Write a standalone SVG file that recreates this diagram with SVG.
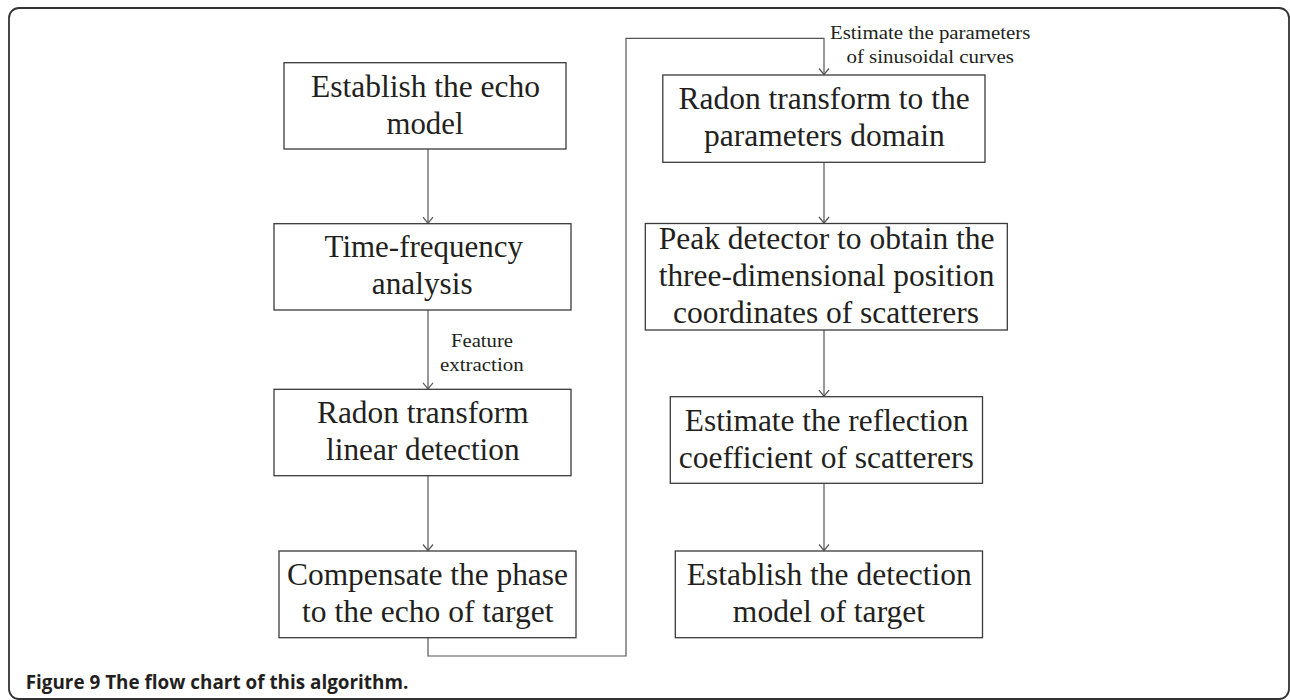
<svg xmlns="http://www.w3.org/2000/svg" width="1290" height="700" viewBox="0 0 1290 700">
<style>
.box{fill:#fff;stroke:#3a3a3a;stroke-width:1.3}
.t{font-family:"Liberation Serif","Times New Roman",serif;font-size:32px;fill:#231f20;text-anchor:middle}
.lbl{font-family:"Liberation Serif","Times New Roman",serif;font-size:19px;fill:#231f20;text-anchor:middle}
.conn{fill:none;stroke:#555;stroke-width:1.2}
.cap{font-family:"Open Sans","Liberation Sans",sans-serif;font-weight:bold;font-size:20px;fill:#231f20}
</style>
<defs>
<marker id="arr" markerUnits="userSpaceOnUse" markerWidth="14" markerHeight="14" viewBox="-8 -7 10 14" refX="0" refY="0" orient="auto">
<path d="M-6,-5 L0,0 L-6,5" fill="none" stroke="#555" stroke-width="1.2"/>
</marker>
</defs>
<rect x="9" y="8" width="1280" height="691" rx="10" ry="10" fill="#fff" stroke="#333" stroke-width="1.8"/>
<g id="connectors">
<line class="conn" x1="428" y1="149" x2="428" y2="223.2" marker-end="url(#arr)"/>
<line class="conn" x1="428" y1="310" x2="428" y2="388.8" marker-end="url(#arr)"/>
<line class="conn" x1="428" y1="475.7" x2="428" y2="550.5" marker-end="url(#arr)"/>
<polyline class="conn" points="428,637.7 428,656 626,656 626,38.3 824,38.3 824,74.5" marker-end="url(#arr)"/>
<line class="conn" x1="824" y1="162.3" x2="824" y2="223" marker-end="url(#arr)"/>
<line class="conn" x1="824" y1="330" x2="824" y2="396.2" marker-end="url(#arr)"/>
<line class="conn" x1="824" y1="483.3" x2="824" y2="550.5" marker-end="url(#arr)"/>
<text class="lbl" x="482" y="346.7" font-size="20" textLength="62" lengthAdjust="spacingAndGlyphs">Feature</text>
<text class="lbl" x="481.8" y="370.5" font-size="20" textLength="83.6" lengthAdjust="spacingAndGlyphs">extraction</text>
<text class="lbl" x="930.2" y="39" textLength="200.5" lengthAdjust="spacingAndGlyphs">Estimate the parameters</text>
<text class="lbl" x="930.2" y="63" textLength="167.5" lengthAdjust="spacingAndGlyphs">of sinusoidal curves</text>
</g>
<g id="n1">
<rect class="box" x="284" y="62.7" width="282" height="86.3"/>
<text class="t" x="425.5" y="97" textLength="229" lengthAdjust="spacingAndGlyphs">Establish the echo</text>
<text class="t" x="425" y="134" textLength="77" lengthAdjust="spacingAndGlyphs">model</text>
</g>
<g id="n2">
<rect class="box" x="274" y="223.7" width="297" height="86.3"/>
<text class="t" x="423.8" y="257" textLength="198.5" lengthAdjust="spacingAndGlyphs">Time-frequency</text>
<text class="t" x="422.2" y="294" textLength="100.7" lengthAdjust="spacingAndGlyphs">analysis</text>
</g>
<g id="n3">
<rect class="box" x="274" y="389.3" width="297" height="86.4"/>
<text class="t" x="422.8" y="423" textLength="211.6" lengthAdjust="spacingAndGlyphs">Radon transform</text>
<text class="t" x="422.8" y="460" textLength="193.5" lengthAdjust="spacingAndGlyphs">linear detection</text>
</g>
<g id="n4">
<rect class="box" x="279" y="551" width="297" height="86.7"/>
<text class="t" x="427.5" y="585" textLength="281" lengthAdjust="spacingAndGlyphs">Compensate the phase</text>
<text class="t" x="427.8" y="622" textLength="251.5" lengthAdjust="spacingAndGlyphs">to the echo of target</text>
</g>
<g id="n5">
<rect class="box" x="662.8" y="75" width="322.2" height="87.3"/>
<text class="t" x="824.1" y="109" textLength="291" lengthAdjust="spacingAndGlyphs">Radon transform to the</text>
<text class="t" x="824.4" y="146" textLength="240.7" lengthAdjust="spacingAndGlyphs">parameters domain</text>
</g>
<g id="n6">
<rect class="box" x="645.3" y="223.5" width="362" height="106.5"/>
<text class="t" x="826.6" y="249" textLength="335.8" lengthAdjust="spacingAndGlyphs">Peak detector to obtain the</text>
<text class="t" x="826.6" y="286" textLength="335.8" lengthAdjust="spacingAndGlyphs">three-dimensional position</text>
<text class="t" x="826" y="323" textLength="306" lengthAdjust="spacingAndGlyphs">coordinates of scatterers</text>
</g>
<g id="n7">
<rect class="box" x="670.3" y="396.7" width="312.2" height="86.6"/>
<text class="t" x="826.6" y="431" textLength="283.6" lengthAdjust="spacingAndGlyphs">Estimate the reflection</text>
<text class="t" x="826.2" y="468" textLength="295" lengthAdjust="spacingAndGlyphs">coefficient of scatterers</text>
</g>
<g id="n8">
<rect class="box" x="675.3" y="551" width="307.2" height="86.7"/>
<text class="t" x="829.3" y="585" textLength="285" lengthAdjust="spacingAndGlyphs">Establish the detection</text>
<text class="t" x="829" y="622" textLength="192.3" lengthAdjust="spacingAndGlyphs">model of target</text>
</g>
<text class="cap" x="25.7" y="689" textLength="382.7" lengthAdjust="spacingAndGlyphs">Figure 9 The flow chart of this algorithm.</text>
</svg>
